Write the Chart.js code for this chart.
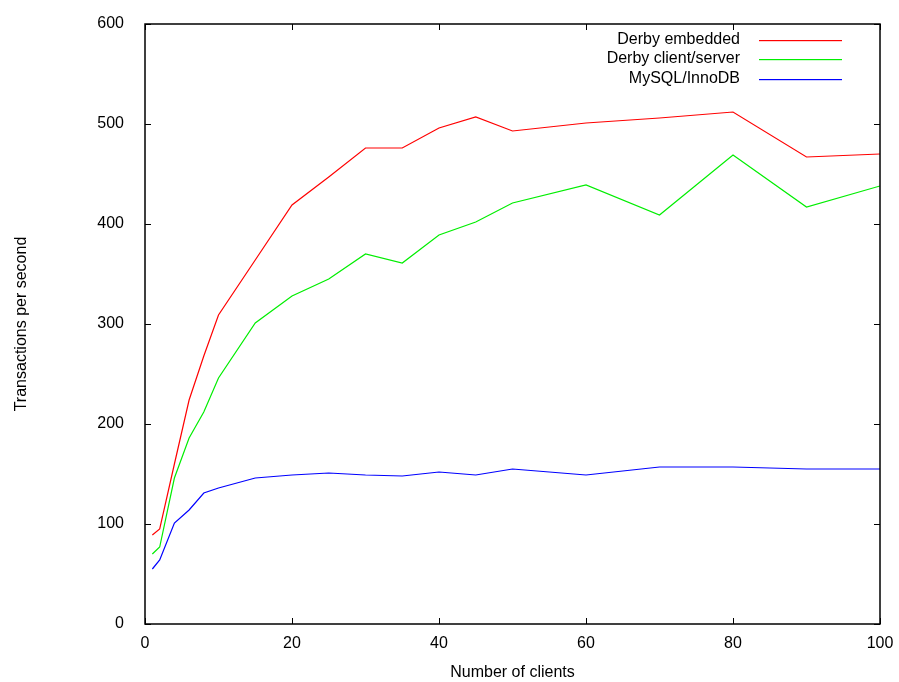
<!DOCTYPE html>
<html>
<head>
<meta charset="utf-8">
<title>Transactions per second</title>
<script src="https://cdn.jsdelivr.net/npm/chart.js"></script>
<style>
  body { margin: 0; background: #fff; }
</style>
</head>
<body>
<canvas id="chart" width="899" height="682"></canvas>
<script>
// data
const clients = [1, 2, 4, 6, 8, 10, 15, 20, 25, 30, 35, 40, 45, 50, 60, 70, 80, 90, 100];
const derbyEmbedded = [89, 95, 160, 224, 268, 309, 364, 419, 447, 476, 476, 496, 507, 493, 501, 506, 512, 467, 470];
const derbyClientServer = [70, 77, 146, 186, 212, 246, 301, 328, 345, 370, 361, 389, 402, 421, 439, 409, 469, 417, 438];
const mysqlInnoDB = [55, 64, 101, 114, 131, 136, 146, 149, 151, 149, 148, 152, 149, 155, 149, 157, 157, 155, 155];
const seriesNames = ['Derby embedded', 'Derby client/server', 'MySQL/InnoDB'];
const seriesColors = ['#ff0000', '#00ee00', '#0000ff'];
const xTicks = [0, 20, 40, 60, 80, 100];
const yTicks = [0, 100, 200, 300, 400, 500, 600];

const FONT = 'Liberation Sans, Arial, sans-serif';

function points(ys) {
  return clients.map((x, i) => ({ x: x, y: ys[i] }));
}

// gnuplot style: frame, ticks on the inside (also mirrored), legend top right
const gnuplotLook = {
  id: 'gnuplotLook',
  afterDraw(chart) {
    const ctx = chart.ctx;
    const a = chart.chartArea;
    const xs = chart.scales.x, ys = chart.scales.y;
    const t = 6;
    ctx.save();
    ctx.strokeStyle = '#000';
    ctx.lineWidth = 1.5;
    ctx.strokeRect(a.left, a.top, a.right - a.left, a.bottom - a.top);
    ctx.lineWidth = 1;
    ctx.beginPath();
    xTicks.forEach(v => {
      const px = Math.round(xs.getPixelForValue(v)) + 0.5;
      ctx.moveTo(px, a.bottom); ctx.lineTo(px, a.bottom - t);
      ctx.moveTo(px, a.top); ctx.lineTo(px, a.top + t);
    });
    yTicks.forEach(v => {
      const py = Math.round(ys.getPixelForValue(v)) + 0.5;
      ctx.moveTo(a.left, py); ctx.lineTo(a.left + t, py);
      ctx.moveTo(a.right, py); ctx.lineTo(a.right - t, py);
    });
    ctx.stroke();
    ctx.restore();

    // legend
    seriesNames.forEach((name, i) => {
      const y = Math.round(39.5 + i * 19.7);
      ctx.save();
      ctx.font = '16px ' + FONT;
      ctx.textAlign = 'right';
      ctx.textBaseline = 'middle';
      ctx.fillStyle = '#000';
      ctx.fillText(name, 740, y);
      ctx.fillStyle = seriesColors[i];
      ctx.fillRect(759, y, 83, 1.2);
      ctx.restore();
    });
  }
};

new Chart(document.getElementById('chart'), {
  type: 'line',
  data: {
    datasets: [
      { label: seriesNames[0], data: points(derbyEmbedded), borderColor: seriesColors[0] },
      { label: seriesNames[1], data: points(derbyClientServer), borderColor: seriesColors[1] },
      { label: seriesNames[2], data: points(mysqlInnoDB), borderColor: seriesColors[2] }
    ]
  },
  options: {
    responsive: false,
    animation: false,
    layout: { padding: { top: 24, right: 19, left: 0, bottom: 0 } },
    elements: {
      line: { borderWidth: 1.2, tension: 0, fill: false },
      point: { radius: 0 }
    },
    plugins: { legend: { display: false }, tooltip: { enabled: false } },
    scales: {
      x: {
        type: 'linear',
        min: 0, max: 100,
        afterBuildTicks: s => { s.ticks = xTicks.map(v => ({ value: v })); },
        afterFit: s => { s.height = 682 - 624; s.paddingLeft = 0; s.paddingRight = 0; },
        grid: { display: false },
        border: { display: false },
        ticks: { color: '#000', font: { family: FONT, size: 16 }, padding: 2, maxRotation: 0 },
        title: {
          display: true, text: 'Number of clients', color: '#000',
          font: { family: FONT, size: 16 }, padding: { top: 7, bottom: 0 }
        }
      },
      y: {
        min: 0, max: 600,
        afterBuildTicks: s => { s.ticks = yTicks.map(v => ({ value: v })); },
        afterFit: s => { s.width = 145; s.paddingTop = 0; s.paddingBottom = 0; },
        grid: { display: false },
        border: { display: false },
        ticks: { color: '#000', font: { family: FONT, size: 16 }, padding: 13 },
        title: {
          display: true, text: 'Transactions per second', color: '#000',
          font: { family: FONT, size: 16 }, padding: { top: 12, bottom: 0 }
        }
      }
    }
  },
  plugins: [gnuplotLook]
});
</script>
</body>
</html>
